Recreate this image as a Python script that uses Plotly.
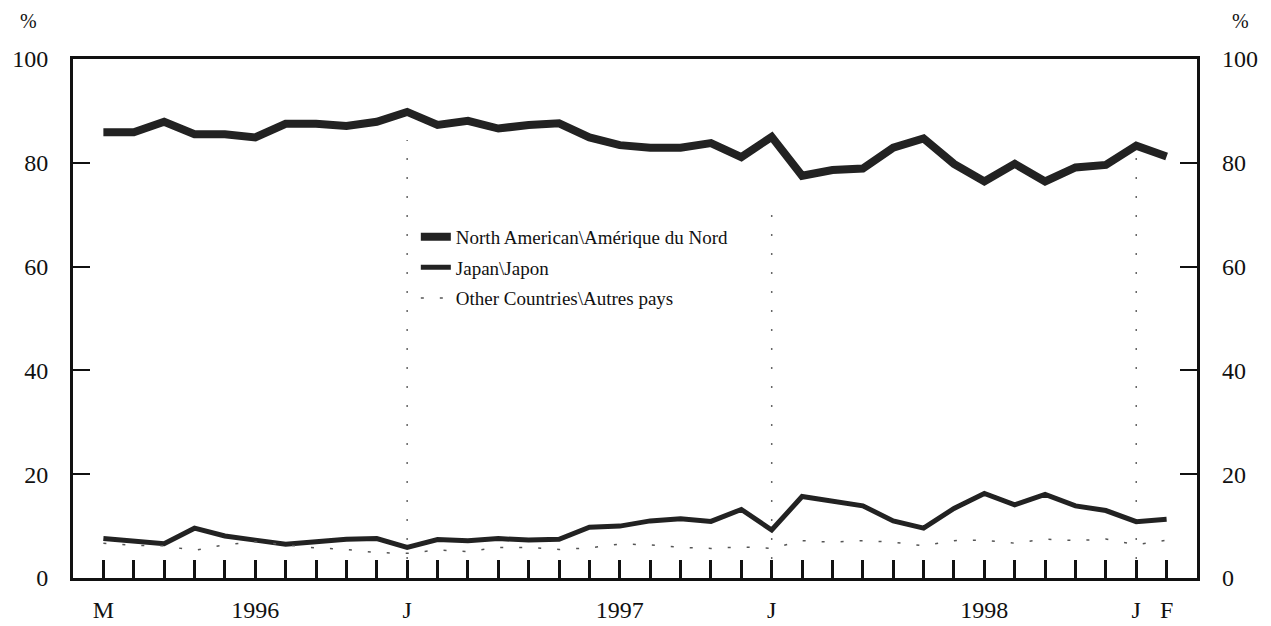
import plotly.graph_objects as go
import pandas as pd

# Monthly observations, March 1995 to February 1998
months = [d.strftime("%Y-%m") for d in pd.date_range("1995-03-01", "1998-02-01", freq="MS")]

north_america = [85.9, 85.9, 87.9, 85.5, 85.5, 84.9, 87.5, 87.5, 87.1, 87.9, 89.8, 87.3,
                 88.1, 86.6, 87.3, 87.6, 84.9, 83.4, 82.9, 82.9, 83.8, 81.1, 85.0, 77.5,
                 78.6, 78.9, 82.9, 84.7, 79.8, 76.4, 79.8, 76.4, 79.1, 79.6, 83.3, 81.2]
japan = [7.6, 7.0, 6.6, 9.6, 8.1, 7.3, 6.5, 7.0, 7.45, 7.6, 5.9, 7.4,
         7.2, 7.6, 7.3, 7.45, 9.8, 10.0, 11.0, 11.4, 10.9, 13.2, 9.25, 15.7,
         14.9, 13.9, 11.0, 9.6, 13.4, 16.3, 14.1, 16.1, 13.9, 13.0, 10.85, 11.3]
other = [6.7, 6.3, 6.2, 5.3, 6.4, 7.0, 6.4, 5.8, 5.5, 4.9, 4.75, 5.4,
         5.1, 5.9, 5.9, 5.5, 5.8, 6.55, 6.4, 5.9, 5.7, 6.0, 5.7, 7.2,
         6.9, 7.2, 6.9, 6.2, 7.2, 7.3, 6.7, 7.5, 7.2, 7.5, 6.4, 7.3]

# x-axis labels: (month, label)
x_labels = [("1995-03", "M"), ("1995-08", "1996"), ("1996-01", "J"), ("1996-08", "1997"),
            ("1997-01", "J"), ("1997-08", "1998"), ("1998-01", "J"), ("1998-02", "F")]
# vertical reference lines at January months, with their heights
ref_lines = [("1996-01", 84.4), ("1997-01", 73.2), ("1998-01", 82.0)]

y_ticks = [0, 20, 40, 60, 80, 100]

x = list(range(len(months)))
pos = {m: i for i, m in enumerate(months)}

FONT = "Liberation Serif, Times New Roman, serif"
DARK = "#222222"
INK = "#111111"

fig = go.Figure()
fig.add_trace(go.Scatter(x=x, y=north_america, mode="lines", name="North American\\Amérique du Nord",
                         legendgroup="a", line=dict(color=DARK, width=8)))
fig.add_trace(go.Scatter(x=x, y=japan, mode="lines", name="Japan\\Japon",
                         legendgroup="b", line=dict(color=DARK, width=5)))
fig.add_trace(go.Scatter(x=x, y=other, mode="lines", name="Other Countries\\Autres pays",
                         legendgroup="c", line=dict(color="#555555", width=1.5, dash="3px,16px")))
# invisible trace for the right-hand axis
fig.add_trace(go.Scatter(x=[x[0]], y=[0], yaxis="y2", mode="markers",
                         marker=dict(opacity=0), showlegend=False, hoverinfo="skip"))

for m, h in ref_lines:
    fig.add_shape(type="line", x0=pos[m], x1=pos[m], y0=0, y1=h, xref="x", yref="y",
                  line=dict(color="#666666", width=1.5, dash="2px,17px"), layer="below")

# page body adds an 8px offset; margins compensate so the plot sits at (73, 59)
W, H = 1263, 618
L, R, T, B = 65, 74, 51, 48
PW, PH = W - L - R, H - T - B

fig.update_layout(
    width=W, height=H,
    margin=dict(l=L, r=R, t=T, b=B, autoexpand=False),
    paper_bgcolor="white", plot_bgcolor="white",
    font=dict(family=FONT, size=24, color=INK),
    showlegend=True,
    legend=dict(x=0.305, y=0.694, xanchor="left", yanchor="top",
                font=dict(family=FONT, size=19, color=INK),
                bgcolor="rgba(0,0,0,0)", tracegroupgap=3, itemwidth=30),
    xaxis=dict(
        range=[-1, len(months)], showgrid=False, zeroline=False, automargin=False,
        showline=True, mirror=True, linecolor=INK, linewidth=3,
        tickmode="array",
        tickvals=[pos[m] for m, _ in x_labels],
        ticktext=[t for _, t in x_labels],
        ticks="inside", ticklen=18, tickwidth=3, tickcolor=INK,
        ticklabelstandoff=8,
        minor=dict(tickmode="array", tickvals=x, ticks="inside", ticklen=18,
                   tickwidth=3, tickcolor=INK, showgrid=False),
    ),
    yaxis=dict(
        range=[0, 100], showgrid=False, zeroline=False, automargin=False,
        showline=True, mirror=True, linecolor=INK, linewidth=3,
        tickmode="array", tickvals=y_ticks,
        ticks="inside", ticklen=17, tickwidth=2, tickcolor=INK,
        ticklabelstandoff=17,
    ),
    yaxis2=dict(
        range=[0, 100], overlaying="y", side="right", anchor="x", automargin=False,
        showgrid=False, zeroline=False, showline=False,
        tickmode="array", tickvals=y_ticks,
        ticks="inside", ticklen=17, tickwidth=2, tickcolor=INK,
        ticklabelstandoff=24,
    ),
)
for px in (20, 1232):
    fig.add_annotation(text="%", xref="paper", yref="paper",
                       x=(px - L) / PW, y=(H - B - 13) / PH,
                       xanchor="center", yanchor="middle", showarrow=False,
                       font=dict(family=FONT, size=20, color=INK))

fig.write_html("out.html")
